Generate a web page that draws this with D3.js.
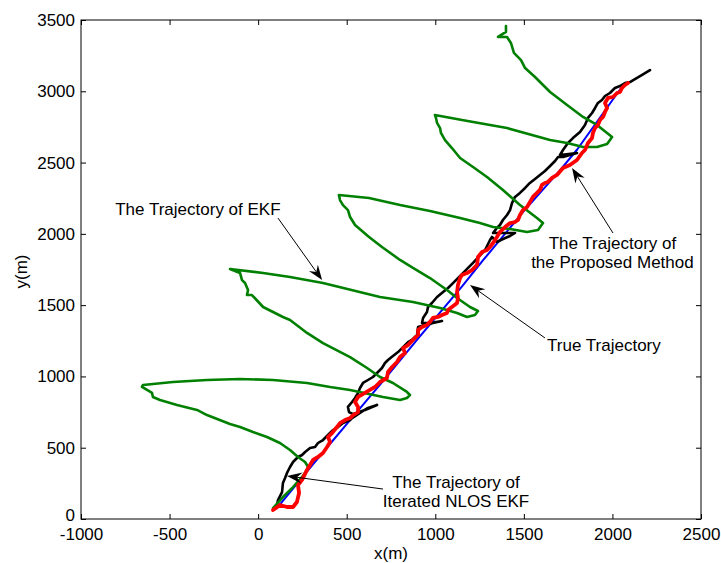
<!DOCTYPE html>
<html>
<head>
<meta charset="utf-8">
<script src="https://cdn.jsdelivr.net/npm/d3@7"></script>
<style>
  body { margin: 0; background: #fff; }
  svg text { font-family: "Liberation Sans", Arial, Helvetica, sans-serif; }
</style>
</head>
<body>
<svg id="chart" width="721" height="563"></svg>
<script>
// axis ticks
var xTicks = [-1000, -500, 0, 500, 1000, 1500, 2000, 2500];
var yTicks = [0, 500, 1000, 1500, 2000, 2500, 3000, 3500];

// true trajectory (blue)
var trueTraj = [[105,75],[300,370],[520,695],[700,960],[900,1262],[1150,1630],[1270,1815],[1500,2160],[1700,2440],[1800,2590],[2050,3025]];

// EKF (green)
var ekfTraj = [[84,77],[140,154],[197,224],[248,295],[276,344],[282,365],[265,400],[225,435],[180,484],[123,533],[50,575],[-29,610],[-102,645],[-159,666],[-289,729],[-345,765],[-458,800],[-554,835],[-594,856],[-599,884],[-627,905],[-656,926],[-650,940],[-481,961],[-289,975],[-102,982],[84,975],[276,954],[406,926],[519,905],[705,856],[801,835],[840,849],[857,870],
  [840,891],[761,954],[688,996],[615,1059],[519,1136],[366,1234],[276,1305],[180,1396],[140,1417],[28,1487],[-35,1571],[-63,1571],[-57,1606],[-74,1655],[-91,1676],[-102,1725],[-159,1754],
  [28,1725],[180,1697],[366,1655],[688,1557],[874,1522],[1027,1480],[1123,1445],[1179,1417],[1224,1431],[1241,1459],
  [1196,1487],[1123,1550],[1066,1606],[970,1690],[874,1761],[801,1817],[699,1908],[626,1978],[547,2062],[519,2118],[507,2167],[479,2202],[462,2237],[456,2273],
  [626,2252],[801,2202],[970,2160],[1140,2111],[1252,2076],[1326,2048],[1422,2034],[1518,2013],[1580,2027],[1608,2076],
  [1574,2111],[1478,2202],[1382,2308],[1292,2399],[1213,2469],[1140,2532],[1094,2602],[1055,2658],[1032,2708],[1027,2742],[1010,2778],[1004,2813],[998,2834],
  [1151,2799],[1405,2742],[1648,2658],[1744,2637],[1834,2609],[1913,2609],[1970,2630],[1998,2679],
  [1913,2764],[1834,2820],[1744,2904],[1648,2995],[1563,3100],[1507,3163],[1484,3219],[1444,3269],[1427,3339],[1405,3381],[1354,3381],[1399,3416],[1399,3458]];

// iterated NLOS EKF (black)
var iterTraj = [[107,98],[112,133],[135,189],[140,253],[152,288],[163,323],[180,365],[197,400],[225,435],[248,449],[265,470],[293,498],[321,505],[338,533],[366,554],[394,589],[423,624],[451,645],[479,673],[519,694],
  [530,708],[547,722],[564,736],[592,758],[620,779],[671,800],[603,765],[536,736],[513,750],[507,786],[530,821],[547,849],[564,884],[575,919],[592,954],[620,975],[648,996],[671,1024],[699,1059],[716,1094],[733,1115],[761,1143],[790,1171],[818,1206],[846,1241],
  [868,1256],[897,1291],[903,1347],[942,1361],[987,1375],[1038,1389],[970,1375],[925,1375],[931,1410],[953,1452],[959,1487],[981,1515],[1010,1557],[1044,1592],[1072,1620],[1100,1655],[1128,1690],[1156,1725],[1185,1761],[1213,1796],
  [1281,1887],[1309,1957],[1320,1978],[1348,1943],[1382,1964],[1422,1985],[1450,2006],[1326,2006],[1348,2041],[1365,2062],[1382,2097],[1405,2132],[1422,2167],[1433,2216],[1450,2259],[1478,2287],[1507,2322],[1534,2357],[1563,2385],[1591,2413],[1619,2441],[1648,2476],[1676,2511],[1693,2539],
  [1721,2539],[1760,2553],[1800,2567],[1704,2553],[1721,2588],[1749,2637],[1777,2672],[1817,2714],[1845,2764],[1862,2813],[1885,2848],[1902,2883],[1918,2918],[1941,2939],[1958,2967],[1986,2988],[2014,3023],[2043,3037],[2071,3058],[2099,3065],[2127,3086],[2156,3107],[2184,3128],[2212,3149]];

// proposed method (red)
var propTraj = [[84,63],[123,98],[163,84],[197,84],[219,119],[231,182],[225,238],[248,274],[276,344],[310,414],[338,435],[366,463],[389,505],[406,540],[394,575],[417,603],[445,645],[462,673],[490,694],[519,708],[536,729],[564,750],[564,786],[547,821],[564,856],[603,884],[631,905],[660,926],[688,961],[727,989],[733,1031],[756,1066],[784,1101],[801,1136],[829,1164],[818,1199],[846,1220],[874,1256],[903,1291],[903,1326],[925,1347],[953,1361],[970,1382],[987,1410],[1015,1417],[1038,1431],[1066,1445],[1072,1466],[1094,1487],[1123,1515],[1128,1550],[1123,1592],[1128,1641],[1140,1690],[1151,1711],[1179,1725],[1207,1746],[1236,1782],
  [1241,1838],[1264,1873],[1292,1887],[1309,1908],[1326,1936],[1348,1978],[1365,2013],[1394,2048],[1422,2076],[1450,2083],[1467,2097],[1478,2132],[1495,2167],[1518,2188],[1534,2223],[1551,2259],[1574,2287],[1591,2308],[1602,2343],[1619,2357],[1636,2364],[1659,2392],[1687,2413],
  [1721,2462],[1760,2483],[1800,2518],[1828,2567],[1845,2588],[1862,2637],[1885,2672],[1890,2708],[1902,2742],[1918,2764],[1930,2799],[1947,2820],[1958,2855],[1970,2883],[1958,2918],[1975,2953],[2003,2960],[2026,2988],[2043,2995],[2054,3023],[2071,3044],[2088,3058]];

// annotation text lines, arrows (from -> to, data units)
var notes = [
  {lines: ["The Trajectory of EKF"], at: [-340, 2132], from: [112, 2111], to: [361, 1676]},
  {lines: ["The Trajectory of", "the Proposed Method"], at: [2000, 1894], from: [2003, 2006], to: [1772, 2462]},
  {lines: ["True Trajectory"], at: [1952, 1178], from: [1619, 1270], to: [1196, 1641]},
  {lines: ["The Trajectory of", "Iterated NLOS EKF"], at: [1117, 220], from: [705, 210], to: [163, 302]}
];

var W = 721, H = 563;
var margin = {top: 20, right: 20, bottom: 44, left: 81};
var svg = d3.select("#chart");

var x = d3.scaleLinear().domain([-1000, 2500]).range([margin.left, W - margin.right]);
var y = d3.scaleLinear().domain([0, 3500]).range([H - margin.bottom, margin.top]);

var fmt = function(d) { return d; };

svg.append("g")
  .attr("transform", "translate(0," + y(0) + ")")
  .call(d3.axisBottom(x).tickValues(xTicks).tickFormat(fmt).tickSizeInner(-5).tickSizeOuter(0).tickPadding(9));
var yAxis = svg.append("g")
  .attr("transform", "translate(" + x(-1000) + ",0)")
  .call(d3.axisLeft(y).tickValues(yTicks).tickFormat(fmt).tickSizeInner(-5).tickSizeOuter(0).tickPadding(6));
svg.append("g")
  .attr("transform", "translate(0," + y(3500) + ")")
  .call(d3.axisTop(x).tickValues(xTicks).tickFormat("").tickSizeInner(-5).tickSizeOuter(0));
svg.append("g")
  .attr("transform", "translate(" + x(2500) + ",0)")
  .call(d3.axisRight(y).tickValues(yTicks).tickFormat("").tickSizeInner(-5).tickSizeOuter(0));

svg.selectAll(".tick text").attr("font-size", 17).attr("fill", "#000")
  .attr("font-family", "Liberation Sans, Arial, sans-serif");
// lift the y "0" a little so it clears the x "-1000"
yAxis.selectAll(".tick text").filter(function(d) { return d === 0; }).attr("dy", "0.1em");
svg.selectAll(".domain").remove();

svg.append("rect")
  .attr("x", x(-1000)).attr("y", y(3500))
  .attr("width", x(2500) - x(-1000)).attr("height", y(0) - y(3500))
  .attr("fill", "none").attr("stroke", "#000").attr("stroke-width", 1);

var line = d3.line().x(function(d) { return x(d[0]); }).y(function(d) { return y(d[1]); });

function drawPath(data, color, w) {
  svg.append("path").datum(data).attr("d", line)
    .attr("fill", "none").attr("stroke", color).attr("stroke-width", w)
    .attr("stroke-linejoin", "round").attr("stroke-linecap", "round");
}

drawPath(trueTraj, "#0000ff", 2);
drawPath(iterTraj, "#000000", 2.6);
drawPath(ekfTraj, "#008000", 2.6);
drawPath(propTraj, "#ff0000", 3.8);

// annotations
notes.forEach(function(n) {
  var x0 = x(n.from[0]), y0 = y(n.from[1]);
  var x1 = x(n.to[0]), y1 = y(n.to[1]);
  var ang = Math.atan2(y1 - y0, x1 - x0);
  var len = 15, half = 5.5, notch = 10;
  var bx = x1 - len * Math.cos(ang), by = y1 - len * Math.sin(ang);
  var nx = x1 - notch * Math.cos(ang), ny = y1 - notch * Math.sin(ang);
  var px = -Math.sin(ang) * half, py = Math.cos(ang) * half;
  svg.append("line").attr("x1", x0).attr("y1", y0).attr("x2", nx).attr("y2", ny)
    .attr("stroke", "#000").attr("stroke-width", 1);
  svg.append("path")
    .attr("d", "M" + x1 + "," + y1 + "L" + (bx + px) + "," + (by + py) + "L" + nx + "," + ny + "L" + (bx - px) + "," + (by - py) + "Z")
    .attr("fill", "#000");
  var t = svg.append("text").attr("x", x(n.at[0])).attr("y", y(n.at[1]))
    .attr("text-anchor", "middle").attr("font-size", 17).attr("fill", "#000");
  n.lines.forEach(function(s, i) {
    t.append("tspan").attr("x", x(n.at[0])).attr("dy", i === 0 ? 0 : 19).text(s);
  });
});

// axis titles
svg.append("text").attr("x", (x(-1000) + x(2500)) / 2).attr("y", 559)
  .attr("text-anchor", "middle").attr("font-size", 17).text("x(m)");
svg.append("text").attr("transform", "translate(27," + ((y(0) + y(3500)) / 2 + 2) + ") rotate(-90)")
  .attr("text-anchor", "middle").attr("font-size", 17).text("y(m)");
</script>
</body>
</html>
